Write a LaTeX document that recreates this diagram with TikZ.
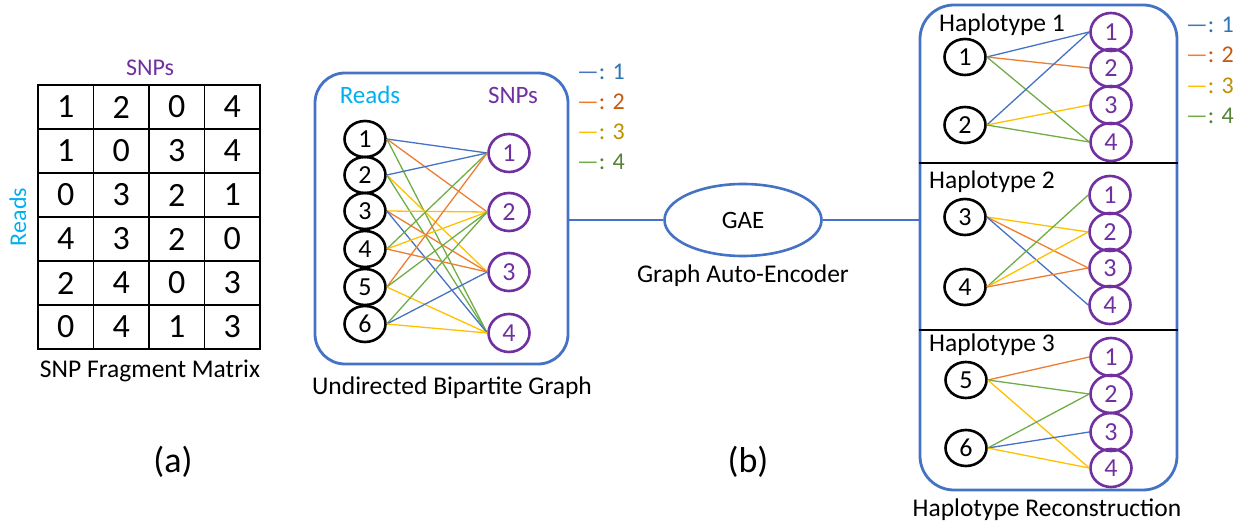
\documentclass[tikz,border=0pt]{standalone}
\usepackage{fontspec}
\setmainfont{Carlito}
\usetikzlibrary{shapes.geometric}
\definecolor{frameblue}{HTML}{4472C4}
\definecolor{readcyan}{HTML}{00B0F0}
\definecolor{snppurple}{HTML}{7030A0}
\definecolor{e1}{HTML}{4472C4}
\definecolor{e2}{HTML}{ED7D31}
\definecolor{e3}{HTML}{FFC000}
\definecolor{e4}{HTML}{70AD47}
\definecolor{t1}{HTML}{2E75B6}
\definecolor{t2}{HTML}{C55A11}
\definecolor{t3}{HTML}{BF9000}
\definecolor{t4}{HTML}{548235}
\tikzset{
  fs/.style={font=\fontsize{#1}{#1}\selectfont},
  cell/.style={draw=black, line width=1.4pt, minimum width=55.5pt, minimum height=44pt,
    inner sep=0pt, fs=34},
  readnode/.style={ellipse, draw=black, line width=2.6pt, minimum width=41pt,
    minimum height=36pt, inner sep=0pt, fs=26},
  snpnode/.style={ellipse, draw=snppurple, text=snppurple, line width=2.6pt,
    minimum width=41pt, minimum height=38pt, inner sep=0pt, fs=26},
  panel/.style={rectangle, draw=frameblue, line width=2.8pt, inner sep=0pt},
  link/.style={draw=frameblue, line width=1.4pt},
  edge/.style={line width=1.3pt},
  label/.style={fs=25.5, inner sep=0pt},
  legend/.style={fs=24, inner sep=0pt, anchor=west},
}
\begin{document}
\begin{tikzpicture}[x=1pt,y=-1pt]
\useasboundingbox (0,0) rectangle (1243,529);

% ---------- (a) SNP fragment matrix ----------
\foreach \row [count=\i] in {{1,2,0,4},{1,0,3,4},{0,3,2,1},{4,3,2,0},{2,4,0,3},{0,4,1,3}} {
  \foreach \v [count=\j] in \row {
    \node[cell] (c-\i-\j) at ({38+55.5*(\j-0.5)},{85+44*(\i-0.5)}) {\v};
  }
}
\node[fs=24, text=snppurple, inner sep=0pt] (mSNPs) at (150,68) {SNPs};
\node[fs=24, text=readcyan, rotate=90, inner sep=0pt] (mReads) at (18,217) {Reads};
\node[label] (mTitle) at (150,371) {SNP Fragment Matrix};
\node[fs=36, inner sep=0pt] (la) at (173,462) {(a)};

% ---------- (b) bipartite graph ----------
\node[panel, rounded corners=30pt, minimum width=253pt, minimum height=291pt] (bg) at (441.5,218.5) {};
\node[fs=25, text=readcyan, inner sep=0pt] (bgReads) at (370,95) {Reads};
\node[fs=25, text=snppurple, inner sep=0pt] (bgSNPs) at (513,95) {SNPs};
\foreach \y [count=\i] in {139,175,211,249,287,324}
  \node[readnode] (r\i) at (365,\y) {\i};
\foreach \y [count=\j] in {153,212,272,333}
  \node[snpnode] (s\j) at (509,\y) {\j};
\foreach \row [count=\i] in {{1,2,0,4},{1,0,3,4},{0,3,2,1},{4,3,2,0},{2,4,0,3},{0,4,1,3}} {
  \foreach \v [count=\j] in \row {
    \ifnum\v>0 \draw[edge, draw=e\v] (r\i.east) -- (s\j.west); \fi
  }
}
\node[label] (bgTitle) at (452,388) {Undirected Bipartite Graph};

% legend next to the bipartite graph
\foreach \k/\y in {1/72,2/102,3/132,4/162}
  \node[legend] (lgA\k) at (577,\y) {\textcolor{e\k}{—}\textcolor{t\k}{: \k}};

% ---------- graph auto-encoder ----------
\node[ellipse, draw=frameblue, line width=2.6pt, minimum width=157pt, minimum height=72pt,
  inner sep=0pt, fs=25] (gae) at (743,220) {GAE};
\node[label] (gaeTitle) at (743,276) {Graph Auto-Encoder};
\draw[link] (gae.west -| bg.east) -- (gae.west);
\node[fs=36, inner sep=0pt] (lb) at (748,462) {(b)};

% ---------- haplotype reconstruction ----------
\node[panel, rounded corners=34pt, minimum width=257pt, minimum height=485pt] (hb) at (1048.5,247.5) {};
\draw[link] (gae.east) -- (gae.east -| hb.west);
\draw[black, line width=1.4pt] (hb.west |- 0,163) -- (hb.east |- 0,163);
\draw[black, line width=1.4pt] (hb.west |- 0,330) -- (hb.east |- 0,330);

\node[label, anchor=west] (h1t) at (939,25) {Haplotype 1};
\node[label, anchor=west] (h2t) at (929,182) {Haplotype 2};
\node[label, anchor=west] (h3t) at (929,345) {Haplotype 3};

% reads of each haplotype
\node[readnode] (hr1) at (965,57) {1};
\node[readnode] (hr2) at (965,125) {2};
\node[readnode] (hr3) at (965,217) {3};
\node[readnode] (hr4) at (965,287) {4};
\node[readnode] (hr5) at (966,380) {5};
\node[readnode] (hr6) at (966,448) {6};

% SNP columns of each haplotype
\foreach \y [count=\j] in {32,68,105,142}
  \node[snpnode] (ha\j) at (1111,\y) {\j};
\foreach \y [count=\j] in {195,232,268,305}
  \node[snpnode] (hb\j) at (1110,\y) {\j};
\foreach \y [count=\j] in {357,394,432,468}
  \node[snpnode] (hc\j) at (1111,\y) {\j};

% haplotype 1: reads 1,2
\foreach \i/\j/\v in {1/1/1,1/2/2,1/4/4,2/1/1,2/3/3,2/4/4}
  \draw[edge, draw=e\v] (hr\i.east) -- (ha\j.west);
% haplotype 2: reads 3,4
\foreach \i/\j/\v in {3/2/3,3/3/2,3/4/1,4/1/4,4/2/3,4/3/2}
  \draw[edge, draw=e\v] (hr\i.east) -- (hb\j.west);
% haplotype 3: reads 5,6
\foreach \i/\j/\v in {5/1/2,5/2/4,5/4/3,6/2/4,6/3/1,6/4/3}
  \draw[edge, draw=e\v] (hr\i.east) -- (hc\j.west);

\node[label] (hbTitle) at (1047,510) {Haplotype Reconstruction};

% legend next to the haplotype panel
\foreach \k/\y in {1/25,2/55,3/86,4/116}
  \node[legend] (lgB\k) at (1186,\y) {\textcolor{e\k}{—}\textcolor{t\k}{: \k}};
\end{tikzpicture}
\end{document}
